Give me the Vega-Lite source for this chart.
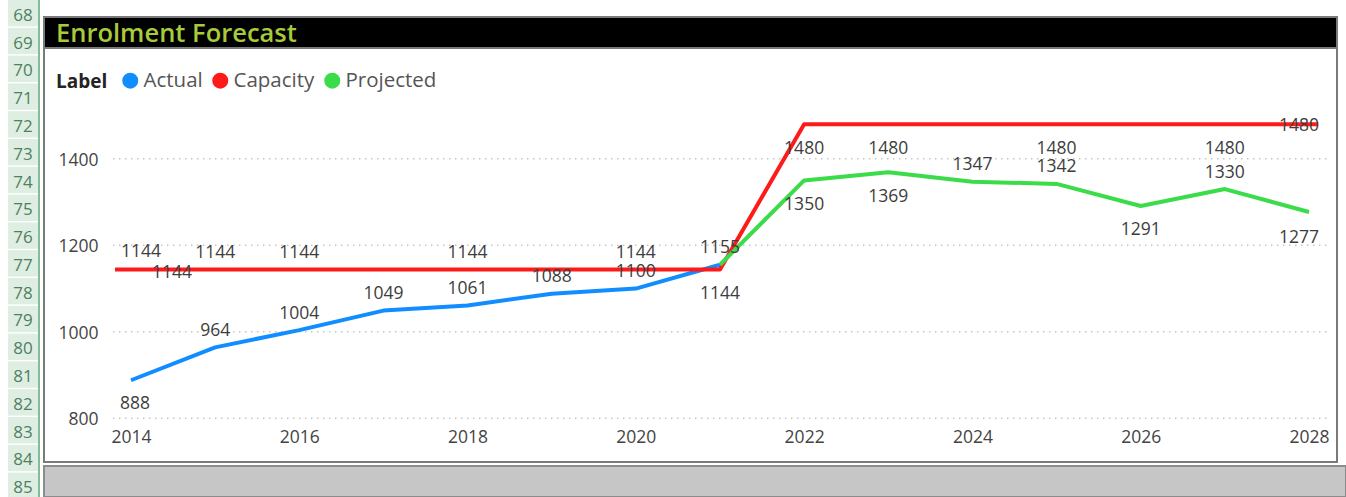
{
  "$schema": "https://vega.github.io/schema/vega-lite/v6.json",
  "padding": {"left": 8, "top": 0, "right": 0, "bottom": 0},
  "background": "white",
  "config": {"view": {"stroke": null}, "font": "Open Sans"},
  "datasets": {
    "enrol": [
      {"Label": "Actual", "Year": 2014, "Value": 888},
      {"Label": "Actual", "Year": 2015, "Value": 964},
      {"Label": "Actual", "Year": 2016, "Value": 1004},
      {"Label": "Actual", "Year": 2017, "Value": 1049},
      {"Label": "Actual", "Year": 2018, "Value": 1061},
      {"Label": "Actual", "Year": 2019, "Value": 1088},
      {"Label": "Actual", "Year": 2020, "Value": 1100},
      {"Label": "Actual", "Year": 2021, "Value": 1155},
      {"Label": "Capacity", "Year": 2013.81, "Value": 1144},
      {"Label": "Capacity", "Year": 2014, "Value": 1144},
      {"Label": "Capacity", "Year": 2015, "Value": 1144},
      {"Label": "Capacity", "Year": 2016, "Value": 1144},
      {"Label": "Capacity", "Year": 2017, "Value": 1144},
      {"Label": "Capacity", "Year": 2018, "Value": 1144},
      {"Label": "Capacity", "Year": 2019, "Value": 1144},
      {"Label": "Capacity", "Year": 2020, "Value": 1144},
      {"Label": "Capacity", "Year": 2021, "Value": 1144},
      {"Label": "Capacity", "Year": 2022, "Value": 1480},
      {"Label": "Capacity", "Year": 2023, "Value": 1480},
      {"Label": "Capacity", "Year": 2024, "Value": 1480},
      {"Label": "Capacity", "Year": 2025, "Value": 1480},
      {"Label": "Capacity", "Year": 2026, "Value": 1480},
      {"Label": "Capacity", "Year": 2027, "Value": 1480},
      {"Label": "Capacity", "Year": 2028, "Value": 1480},
      {"Label": "Capacity", "Year": 2028.11, "Value": 1480},
      {"Label": "Projected", "Year": 2021, "Value": 1155},
      {"Label": "Projected", "Year": 2022, "Value": 1350},
      {"Label": "Projected", "Year": 2023, "Value": 1369},
      {"Label": "Projected", "Year": 2024, "Value": 1347},
      {"Label": "Projected", "Year": 2025, "Value": 1342},
      {"Label": "Projected", "Year": 2026, "Value": 1291},
      {"Label": "Projected", "Year": 2027, "Value": 1330},
      {"Label": "Projected", "Year": 2028, "Value": 1277}
    ],
    "grid": [{"v": 800}, {"v": 1000}, {"v": 1200}, {"v": 1400}],
    "rows": [
      {"r": 68}, {"r": 69}, {"r": 70}, {"r": 71}, {"r": 72}, {"r": 73},
      {"r": 74}, {"r": 75}, {"r": 76}, {"r": 77}, {"r": 78}, {"r": 79},
      {"r": 80}, {"r": 81}, {"r": 82}, {"r": 83}, {"r": 84}, {"r": 85}
    ]
  },
  "spacing": 0,
  "bounds": "flush",
  "resolve": {"scale": {"color": "independent"}, "legend": {"color": "independent"}},
  "hconcat": [
    {
      "width": 30,
      "height": 499,
      "data": {"name": "rows"},
      "layer": [
        {
          "mark": {"type": "rect", "color": "#dfeee2"},
          "encoding": {
            "y": {"field": "r", "type": "ordinal", "scale": {"paddingInner": 0.05, "paddingOuter": 0}, "axis": null}
          }
        },
        {
          "mark": {"type": "text", "font": "Open Sans", "fontSize": 17, "color": "#4f7f61", "baseline": "middle", "dy": 2.5},
          "encoding": {
            "y": {"field": "r", "type": "ordinal", "axis": null},
            "text": {"field": "r", "type": "ordinal"}
          }
        }
      ]
    },
    {
      "width": 2,
      "height": 499,
      "view": {"fill": "#86bb96"},
      "data": {"values": []},
      "mark": "point"
    },
    {
      "width": 4,
      "height": 499,
      "data": {"values": []},
      "mark": "point"
    },
    {
      "spacing": 0,
      "bounds": "flush",
      "resolve": {"scale": {"color": "independent"}, "legend": {"color": "independent"}},
      "vconcat": [
        {
          "width": 1293,
          "height": 17,
          "data": {"values": []},
          "mark": "point"
        },
        {
          "width": 1293,
          "height": 31,
          "view": {"fill": "black", "stroke": "#7a7a7a", "strokeWidth": 2},
          "data": {"values": []},
          "mark": "point"
        },
        {
          "width": 1293,
          "height": 414,
          "view": {"fill": "white", "stroke": "#7a7a7a", "strokeWidth": 2},
          "title": {
            "text": "Enrolment Forecast",
            "anchor": "start",
            "frame": "group",
            "orient": "top",
            "offset": -11,
            "dx": 12,
            "baseline": "middle",
            "font": "Open Sans",
            "fontSize": 25.5,
            "fontWeight": 600,
            "color": "#a8ca3a"
          },
          "layer": [
            {
              "data": {"name": "grid"},
              "mark": {"type": "rule", "color": "#c4c4c4", "strokeWidth": 1.5, "strokeDash": [1.5, 4.5]},
              "encoding": {
                "x": {"datum": 2013.786, "type": "quantitative"},
                "x2": {"datum": 2028.25},
                "y": {"field": "v", "type": "quantitative"}
              }
            },
            {
              "data": {"name": "enrol"},
              "mark": {"type": "line", "strokeWidth": 4, "strokeJoin": "round"},
              "encoding": {
                "x": {
                  "field": "Year",
                  "type": "quantitative",
                  "scale": {"domain": [2012.966, 2028.333], "nice": false, "zero": false},
                  "axis": {
                    "orient": "bottom",
                    "offset": -25,
                    "values": [2014, 2016, 2018, 2020, 2022, 2024, 2026, 2028],
                    "format": "d",
                    "title": null,
                    "domain": false,
                    "ticks": false,
                    "tickSize": 0,
                    "grid": false,
                    "labelPadding": 0,
                    "labelFont": "Open Sans",
                    "labelFontSize": 17.5,
                    "labelColor": "#444444",
                    "labelBaseline": "middle",
                    "labelFlush": false,
                    "labelOverlap": false
                  }
                },
                "y": {
                  "field": "Value",
                  "type": "quantitative",
                  "scale": {"domain": [699.0, 1656.2], "nice": false, "zero": false},
                  "axis": {
                    "orient": "left",
                    "offset": -54,
                    "values": [800, 1000, 1200, 1400],
                    "format": "d",
                    "title": null,
                    "domain": false,
                    "ticks": false,
                    "tickSize": 0,
                    "grid": false,
                    "labelPadding": 0,
                    "labelOffset": 1.5,
                    "labelFont": "Open Sans",
                    "labelFontSize": 17.5,
                    "labelColor": "#444444",
                    "labelAlign": "right",
                    "labelBaseline": "middle",
                    "labelOverlap": false
                  }
                },
                "color": {
                  "field": "Label",
                  "type": "nominal",
                  "scale": {"domain": ["Actual", "Capacity", "Projected"], "range": ["#118DFF", "#FF1A1A", "#3BDC4A"]},
                  "legend": {
                    "orient": "none",
                    "legendX": 12,
                    "legendY": 22,
                    "direction": "horizontal",
                    "title": "Label",
                    "titleOrient": "left",
                    "titleFont": "Open Sans",
                    "titleFontSize": 19,
                    "titleFontWeight": "bold",
                    "titleColor": "#252423",
                    "titleBaseline": "alphabetic",
                    "titlePadding": 12,
                    "labelFont": "Open Sans",
                    "labelFontSize": 20.5,
                    "labelColor": "#555555",
                    "labelOffset": 3,
                    "columnPadding": -3,
                    "symbolType": "circle",
                    "symbolSize": 64,
                    "symbolStrokeWidth": 8,
                    "encode": {"title": {"update": {"dy": {"value": 3}}}}
                  }
                }
              }
            },
            {
              "data": {"name": "enrol"},
              "transform": [{"filter": "(datum.Label=='Actual' && datum.Year>=2015) || (datum.Label=='Capacity' && indexof([2015,2016,2018,2020], datum.Year)>=0) || (datum.Label=='Projected' && indexof([2024,2025,2027], datum.Year)>=0)"}],
              "mark": {"type": "text", "font": "Open Sans", "fontSize": 17.5, "color": "#3d3d3d", "baseline": "middle", "dy": -16.5},
              "encoding": {
                "x": {"field": "Year", "type": "quantitative"},
                "y": {"field": "Value", "type": "quantitative"},
                "text": {"field": "Value", "type": "quantitative", "format": "d"}
              }
            },
            {
              "data": {"name": "enrol"},
              "transform": [{"filter": "(datum.Label=='Capacity' && indexof([2021,2022,2023,2025,2027], datum.Year)>=0) || (datum.Label=='Projected' && indexof([2022,2023,2026], datum.Year)>=0)"}],
              "mark": {"type": "text", "font": "Open Sans", "fontSize": 17.5, "color": "#3d3d3d", "baseline": "middle", "dy": 24.5},
              "encoding": {
                "x": {"field": "Year", "type": "quantitative"},
                "y": {"field": "Value", "type": "quantitative"},
                "text": {"field": "Value", "type": "quantitative", "format": "d"}
              }
            },
            {
              "data": {"name": "enrol"},
              "transform": [{"filter": "datum.Label=='Capacity' && datum.Year==2014"}],
              "mark": {"type": "text", "font": "Open Sans", "fontSize": 17.5, "color": "#3d3d3d", "baseline": "middle", "dx": 10, "dy": -17.5},
              "encoding": {
                "x": {"field": "Year", "type": "quantitative"},
                "y": {"field": "Value", "type": "quantitative"},
                "text": {"field": "Value", "type": "quantitative", "format": "d"}
              }
            },
            {
              "data": {"name": "enrol"},
              "transform": [{"filter": "datum.Label=='Capacity' && datum.Year==2014"}],
              "mark": {"type": "text", "font": "Open Sans", "fontSize": 17.5, "color": "#3d3d3d", "baseline": "middle", "dx": 41, "dy": 3.5},
              "encoding": {
                "x": {"field": "Year", "type": "quantitative"},
                "y": {"field": "Value", "type": "quantitative"},
                "text": {"field": "Value", "type": "quantitative", "format": "d"}
              }
            },
            {
              "data": {"name": "enrol"},
              "transform": [{"filter": "datum.Label=='Actual' && datum.Year==2014"}],
              "mark": {"type": "text", "font": "Open Sans", "fontSize": 17.5, "color": "#3d3d3d", "baseline": "middle", "dx": 4, "dy": 23.5},
              "encoding": {
                "x": {"field": "Year", "type": "quantitative"},
                "y": {"field": "Value", "type": "quantitative"},
                "text": {"field": "Value", "type": "quantitative", "format": "d"}
              }
            },
            {
              "data": {"name": "enrol"},
              "transform": [{"filter": "datum.Label=='Projected' && datum.Year==2028"}],
              "mark": {"type": "text", "font": "Open Sans", "fontSize": 17.5, "color": "#3d3d3d", "baseline": "middle", "dx": -10, "dy": 25.5},
              "encoding": {
                "x": {"field": "Year", "type": "quantitative"},
                "y": {"field": "Value", "type": "quantitative"},
                "text": {"field": "Value", "type": "quantitative", "format": "d"}
              }
            },
            {
              "data": {"name": "enrol"},
              "transform": [{"filter": "datum.Label=='Capacity' && datum.Year==2028"}],
              "mark": {"type": "text", "font": "Open Sans", "fontSize": 17.5, "color": "#3d3d3d", "baseline": "middle", "dx": -10, "dy": 2},
              "encoding": {
                "x": {"field": "Year", "type": "quantitative"},
                "y": {"field": "Value", "type": "quantitative"},
                "text": {"field": "Value", "type": "quantitative", "format": "d"}
              }
            }
          ]
        },
        {
          "width": 1293,
          "height": 4,
          "data": {"values": []},
          "mark": "point"
        },
        {
          "width": 1302,
          "height": 31,
          "view": {"fill": "#c6c6c6", "stroke": "#8c8c8c", "strokeWidth": 2},
          "data": {"values": []},
          "mark": "point"
        }
      ]
    }
  ]
}
